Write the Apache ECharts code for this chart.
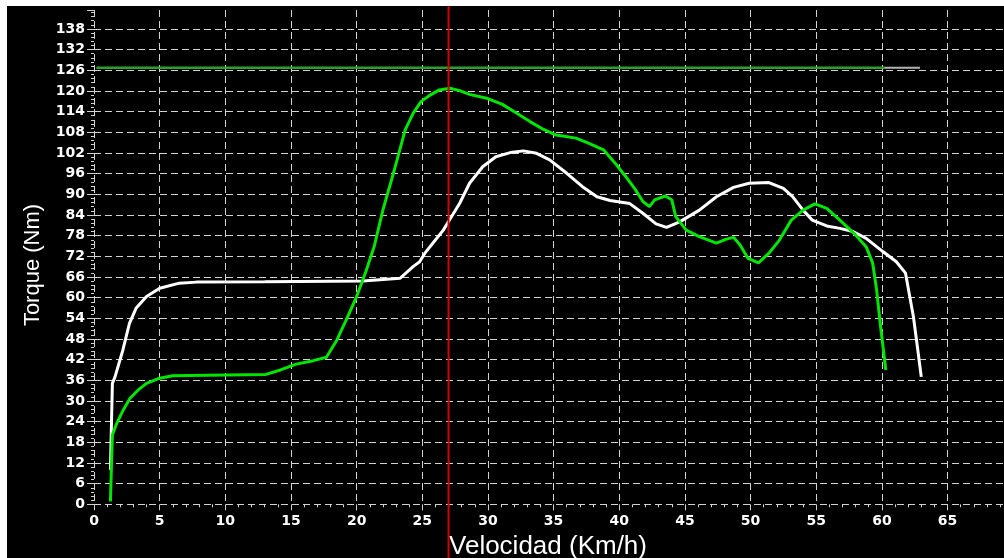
<!DOCTYPE html>
<html>
<head>
<meta charset="utf-8">
<title>Torque vs Velocidad</title>
<script src="https://cdn.jsdelivr.net/npm/echarts@6/dist/echarts.min.js"></script>
<style>
	html, body { margin: 0; padding: 0; background: #ffffff; }
	#chart { position: absolute; left: 7px; top: 6px; width: 997px; height: 552px; background: #000000; }
</style>
</head>
<body>
<div id="chart"></div>
<script>
	// curva blanca
	var speedWhite = [1.25, 1.4, 1.6, 2.2, 2.7, 3.2, 4.0, 5.0, 6.5, 7.8, 13, 20.5, 23.3, 24.3, 24.8, 25.2, 25.8, 26.6, 27.0, 27.85,
		28.6, 29.6, 30.6, 31.7, 32.7, 33.7, 34.7, 36.0, 37.2, 38.3, 39.3, 40.8, 41.8, 42.8, 43.6, 44.6, 46.1, 47.4, 48.7, 49.9,
		51.4, 52.5, 53.2, 54.0, 54.7, 55.8, 56.8, 57.8, 58.8, 60.1, 61.1, 61.8, 62.4, 62.7, 63.0];
	var torqueWhite = [10, 35.1, 37, 44.8, 52.5, 56.9, 60.3, 62.7, 64.2, 64.5, 64.6, 64.8, 65.6, 69, 70.4, 72.9, 75.8, 79.6, 82.1, 87.4,
		93.2, 98, 100.9, 102.1, 102.6, 101.9, 100, 96.1, 92.2, 89.3, 88.2, 87.3, 84.5, 81.4, 80.4, 82, 85.4, 89.3, 92, 93.2,
		93.4, 91.7, 89.3, 85.4, 82.5, 80.8, 80.1, 79.2, 77.2, 73.3, 70.4, 67.1, 54.5, 45.8, 37];

	// curva verde
	var speedGreen = [1.25, 1.4, 1.73, 2.23, 2.74, 3.37, 4.0, 5.0, 6.0, 8.6, 13.1, 14.2, 15.4, 16.7, 17.7, 18.5, 19.2, 20.0, 20.7, 21.35,
		22.0, 22.8, 23.7, 24.3, 24.9, 25.6, 26.3, 27.1, 27.85, 28.6, 29.9, 31.1, 32.2, 33.2, 34.2, 35.2, 36.7, 37.7, 38.8, 39.8,
		40.5, 41.2, 41.8, 42.3, 42.7, 43.5, 44.0, 44.3, 45.1, 46.1, 47.4, 48.1, 48.7, 49.2, 49.8, 50.6, 51.4, 52.2, 53.1, 54.0,
		54.9, 55.8, 56.8, 58.0, 58.8, 59.3, 59.6, 59.9, 60.3];
	var torqueGreen = [0.8, 20.1, 23.5, 27.4, 30.8, 33.2, 35.1, 36.6, 37.3, 37.5, 37.7, 39, 40.7, 41.7, 42.7, 47.7, 53.5, 60.3, 67.5, 75,
		85.4, 96.1, 108.7, 113.5, 116.9, 118.8, 120.3, 120.8, 120.1, 119, 117.9, 116.1, 113.5, 111.1, 108.9, 107.2, 106.3, 104.8, 102.9, 98.5,
		95.1, 91.5, 87.9, 86.4, 88.4, 89.5, 88.4, 83.5, 79.6, 77.7, 75.8, 76.9, 77.5, 75.3, 71.4, 70.1, 72.9, 76.7, 82.5, 85.4,
		87.2, 85.9, 82.5, 78.2, 74.8, 70, 62.2, 51.6, 39];

	// linea de limite y cursor
	var limitTorque = 126.7;
	var limitSpeedGrey = [0.2, 62.9];
	var limitSpeedGreen = [0.2, 60.2];
	var cursorSpeed = 27;

	// ejes
	var speedMax = 69.3;
	var torqueMax = 143.5;
	var speedStep = 5;
	var torqueStep = 6;

	function pairs(xs, ys) {
		var out = [];
		for (var i = 0; i < xs.length; i++) {
			out.push([xs[i], ys[i]]);
		}
		return out;
	}

	var gridColor = '#d2d2d2';
	var labelFont = {
		color: '#ffffff',
		fontFamily: 'DejaVu Sans',
		fontWeight: 'bold',
		fontSize: 14
	};

	var option = {
		backgroundColor: '#000000',
		animation: false,
		grid: [{
			left: 87, right: 0, top: 4, bottom: 53.7,
			outerBoundsMode: 'none'
		}, {
			left: 87, right: 0, top: 0, bottom: 0,
			outerBoundsMode: 'none'
		}],
		xAxis: [{
			type: 'value',
			gridIndex: 0,
			min: 0,
			max: speedMax,
			interval: speedStep,
			axisLine: { show: false },
			axisTick: { show: true, length: 6, lineStyle: { color: gridColor } },
			minorTick: { show: true, splitNumber: 5, length: 3, lineStyle: { color: gridColor } },
			axisLabel: Object.assign({ margin: 10, showMaxLabel: false }, labelFont),
			splitLine: { show: true, showMaxLine: false, lineStyle: { color: gridColor, type: [7, 4], width: 1 } }
		}, {
			type: 'value',
			gridIndex: 1,
			min: 0,
			max: speedMax,
			show: false
		}],
		yAxis: [{
			type: 'value',
			gridIndex: 0,
			min: 0,
			max: torqueMax,
			interval: torqueStep,
			axisLine: { show: false },
			axisTick: { show: true, length: 7, lineStyle: { color: gridColor } },
			minorTick: { show: true, splitNumber: 5, length: 3, lineStyle: { color: gridColor } },
			axisLabel: Object.assign({ margin: 9, showMaxLabel: false }, labelFont),
			splitLine: { show: true, showMaxLine: false, lineStyle: { color: gridColor, type: [7, 4], width: 1 } }
		}, {
			type: 'value',
			gridIndex: 1,
			min: 0,
			max: 1,
			show: false
		}],
		graphic: [{
			type: 'text',
			x: 26,
			y: 259,
			rotation: Math.PI / 2,
			style: {
				text: 'Torque (Nm)',
				fill: '#ffffff',
				font: '22px "Liberation Sans"',
				textAlign: 'center',
				textVerticalAlign: 'middle'
			}
		}, {
			type: 'text',
			x: 541,
			y: 541,
			style: {
				text: 'Velocidad (Km/h)',
				fill: '#ffffff',
				font: '26px "Liberation Sans"',
				textAlign: 'center',
				textVerticalAlign: 'middle'
			}
		}],
		series: [{
			name: 'limite',
			type: 'line',
			xAxisIndex: 0,
			yAxisIndex: 0,
			showSymbol: false,
			data: [[limitSpeedGrey[0], limitTorque], [limitSpeedGrey[1], limitTorque]],
			lineStyle: { color: '#b4b4b4', width: 2 },
			z: 3
		}, {
			name: 'limite verde',
			type: 'line',
			xAxisIndex: 0,
			yAxisIndex: 0,
			showSymbol: false,
			data: [[limitSpeedGreen[0], limitTorque], [limitSpeedGreen[1], limitTorque]],
			lineStyle: { color: '#18a818', width: 2 },
			z: 4
		}, {
			name: 'blanca',
			type: 'line',
			xAxisIndex: 0,
			yAxisIndex: 0,
			showSymbol: false,
			data: pairs(speedWhite, torqueWhite),
			lineStyle: { color: '#ffffff', width: 3 },
			z: 5
		}, {
			name: 'verde',
			type: 'line',
			xAxisIndex: 0,
			yAxisIndex: 0,
			showSymbol: false,
			data: pairs(speedGreen, torqueGreen),
			lineStyle: { color: '#00e600', width: 3 },
			z: 6
		}, {
			name: 'cursor',
			type: 'line',
			xAxisIndex: 1,
			yAxisIndex: 1,
			showSymbol: false,
			data: [[cursorSpeed, 0], [cursorSpeed, 1]],
			lineStyle: { color: '#d40000', width: 2 },
			z: 7
		}]
	};

	echarts.init(document.getElementById('chart')).setOption(option);
</script>
</body>
</html>
